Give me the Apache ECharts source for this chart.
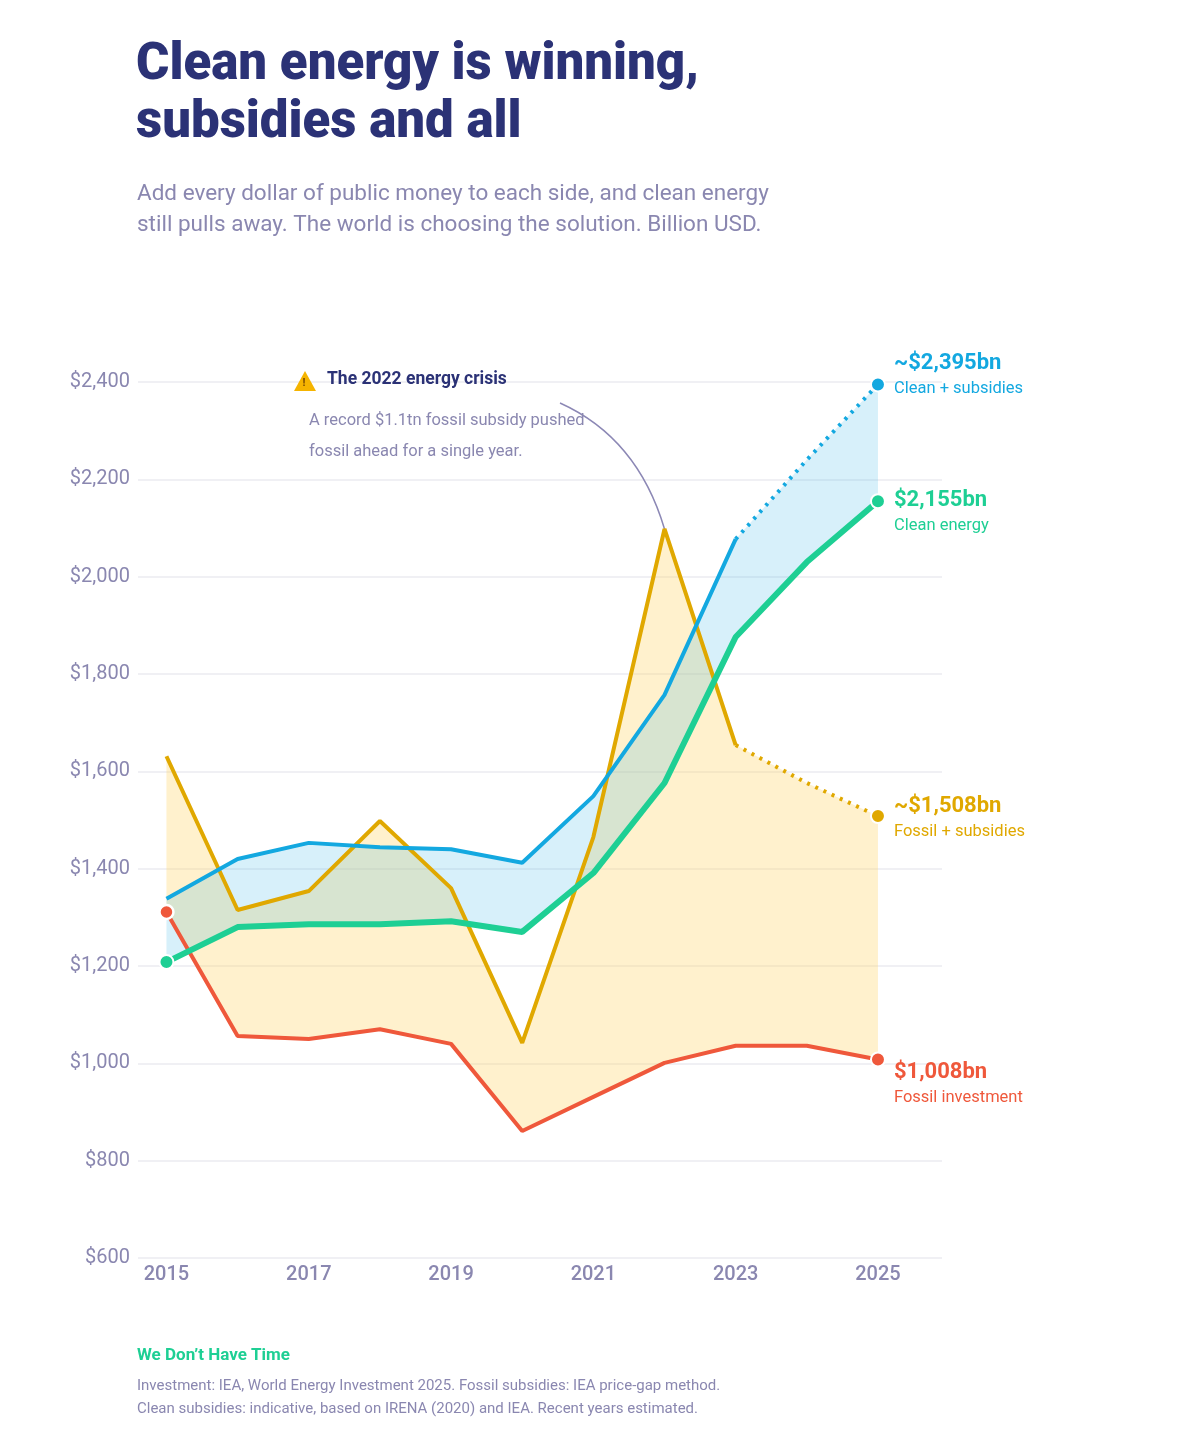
<!DOCTYPE html>
<html><head><meta charset="utf-8">
<script src="https://cdn.jsdelivr.net/npm/echarts@6/dist/echarts.min.js"></script>
<style>body{margin:0;background:#fff}#c{width:1200px;height:1447px}</style>
</head><body><div id="c"></div>
<script>
const years=[2015,2016,2017,2018,2019,2020,2021,2022,2023,2024,2025];
const clean=[1208,1280,1286,1286,1292,1270,1391,1576,1876,2030,2155];
const cleanSubs=[1338,1420,1453,1444,1440,1412,1549,1757,2077,2240,2395];
const fossilSubs=[1631,1315,1354,1498,1360,1042,1465,2098,1654,1576,1508];
const fossil=[1311,1056,1050,1070,1040,861,931,1001,1036,1036,1008];
const yTicks=[600,800,1000,1200,1400,1600,1800,2000,2200,2400];
const xTicks=[2015,2017,2019,2021,2023,2025];

const C={blue:'#13a8e0',green:'#1ecf94',orange:'#e0a800',red:'#ef583b',ink:'#2b3276',sub:'#8a87b0'};
const pts=a=>years.map((y,i)=>[y,a[i]]);
const solidUpTo=(a,last)=>years.map((y,i)=>[y,i<=last?a[i]:null]);
const dotFrom=(a,first)=>years.map((y,i)=>[y,i>=first?a[i]:null]);
function band(top,bot,color){
 return {type:'custom',data:[0],silent:true,z:1,renderItem:(params,api)=>{
  const up=years.map((y,i)=>api.coord([y,top[i]]));
  const dn=years.map((y,i)=>api.coord([y,bot[i]])).reverse();
  return {type:'polygon',shape:{points:up.concat(dn)},style:{fill:color}};
 }};
}
const ch=echarts.init(document.getElementById('c'));
const F='Roboto';
ch.setOption({
 animation:false,
 textStyle:{fontFamily:F},
 title:[
  {text:'Clean energy is winning,\nsubsidies and all',left:131,top:32,textStyle:{fontSize:51,fontWeight:900,color:C.ink,lineHeight:58,fontFamily:F}},
  {text:'Add every dollar of public money to each side, and clean energy\nstill pulls away. The world is choosing the solution. Billion USD.',left:132,top:174,textStyle:{fontSize:22.5,fontWeight:'normal',color:C.sub,lineHeight:31,fontFamily:F}},
  {text:'We Don\u2019t Have Time',left:132,top:1342,textStyle:{fontSize:17,fontWeight:'bold',color:C.green,fontFamily:F}},
  {text:'Investment: IEA, World Energy Investment 2025. Fossil subsidies: IEA price-gap method.\nClean subsidies: indicative, based on IRENA (2020) and IEA. Recent years estimated.',left:132,top:1370,textStyle:{fontSize:15,fontWeight:'normal',color:C.sub,lineHeight:23,fontFamily:F}}
 ],
 grid:{left:138,right:258,top:382,bottom:189},
 xAxis:{type:'value',min:2014.6,max:2025.9,axisLine:{show:false},axisTick:{show:false},splitLine:{show:false},
  axisLabel:{customValues:xTicks,color:C.sub,fontSize:20,fontWeight:500,margin:7,formatter:v=>String(v)}},
 yAxis:{type:'value',min:600,max:2400,interval:200,axisLine:{show:false},axisTick:{show:false},
  splitLine:{lineStyle:{color:'#ebebf0',width:1.5}},
  axisLabel:{color:C.sub,fontSize:20,margin:8,formatter:v=>'$'+v.toLocaleString('en-US')}},
 series:[
  band(fossilSubs,fossil,'rgba(255,210,90,0.3)'),
  band(cleanSubs,clean,'rgba(19,168,224,0.17)'),
  {type:'line',data:pts(fossil),symbol:'none',lineStyle:{color:C.red,width:4}},
  {type:'line',data:solidUpTo(fossilSubs,8),symbol:'none',lineStyle:{color:C.orange,width:4}},
  {type:'line',data:dotFrom(fossilSubs,8),symbol:'none',lineStyle:{color:C.orange,width:4,type:[3,6]}},
  {type:'line',data:solidUpTo(cleanSubs,8),symbol:'none',lineStyle:{color:C.blue,width:4}},
  {type:'line',data:dotFrom(cleanSubs,8),symbol:'none',lineStyle:{color:C.blue,width:4,type:[3,6]}},
  {type:'line',data:pts(clean),symbol:'none',lineStyle:{color:C.green,width:6}},
  {type:'scatter',data:[[2015,fossil[0]]],symbolSize:14,itemStyle:{color:C.red,borderColor:'#fff',borderWidth:2.5,opacity:1},z:5},
  {type:'scatter',data:[[2015,clean[0]],[2025,clean[10]]],symbolSize:14,itemStyle:{color:C.green,borderColor:'#fff',borderWidth:2,opacity:1},z:5},
  {type:'scatter',data:[[2025,cleanSubs[10]]],symbolSize:14,itemStyle:{color:C.blue,borderColor:'#fff',borderWidth:2,opacity:1},z:5},
  {type:'scatter',data:[[2025,fossilSubs[10]]],symbolSize:14,itemStyle:{color:C.orange,borderColor:'#fff',borderWidth:2,opacity:1},z:5},
  {type:'scatter',data:[[2025,fossil[10]]],symbolSize:14,itemStyle:{color:C.red,borderColor:'#fff',borderWidth:2,opacity:1},z:5}
 ]
});
const P=(x,y)=>ch.convertToPixel({gridIndex:0},[x,y]);
const g=[];
function endLabel(v,big,small,col,dy){
 const p=P(2025,v);
 g.push({type:'text',x:p[0]+16,y:p[1]+dy,style:{text:big,fill:col,font:'bold 22px Roboto'}});
 g.push({type:'text',x:p[0]+16,y:p[1]+dy+28,style:{text:small,fill:col,font:'16.5px Roboto'}});
}
endLabel(cleanSubs[10],'~$2,395bn','Clean + subsidies',C.blue,-32);
endLabel(clean[10],'$2,155bn','Clean energy',C.green,-12);
endLabel(fossilSubs[10],'~$1,508bn','Fossil + subsidies',C.orange,-21);
endLabel(fossil[10],'$1,008bn','Fossil investment',C.red,2);
const pk=P(2022,fossilSubs[7]);
g.push({type:'bezierCurve',shape:{x1:560,y1:403,cpx1:620,cpy1:430,cpx2:650,cpy2:480,x2:pk[0],y2:pk[1]},style:{stroke:'#8c88b5',lineWidth:1.5,fill:null}});
g.push({type:'polygon',shape:{points:[[305,371],[294,391],[316,391]]},style:{fill:'#f5b400'}});
g.push({type:'text',x:302.5,y:378,style:{text:'!',fill:'#7a4a00',font:'bold 11px Roboto'}});
g.push({type:'text',x:327,y:371,style:{text:'The 2022 energy crisis',fill:C.ink,font:'bold 17.5px Roboto'}});
g.push({type:'text',x:309,y:405,style:{text:'A record $1.1tn fossil subsidy pushed\nfossil ahead for a single year.',fill:C.sub,font:'16.5px Roboto',lineHeight:31}});
ch.setOption({graphic:g});
</script></body></html>
